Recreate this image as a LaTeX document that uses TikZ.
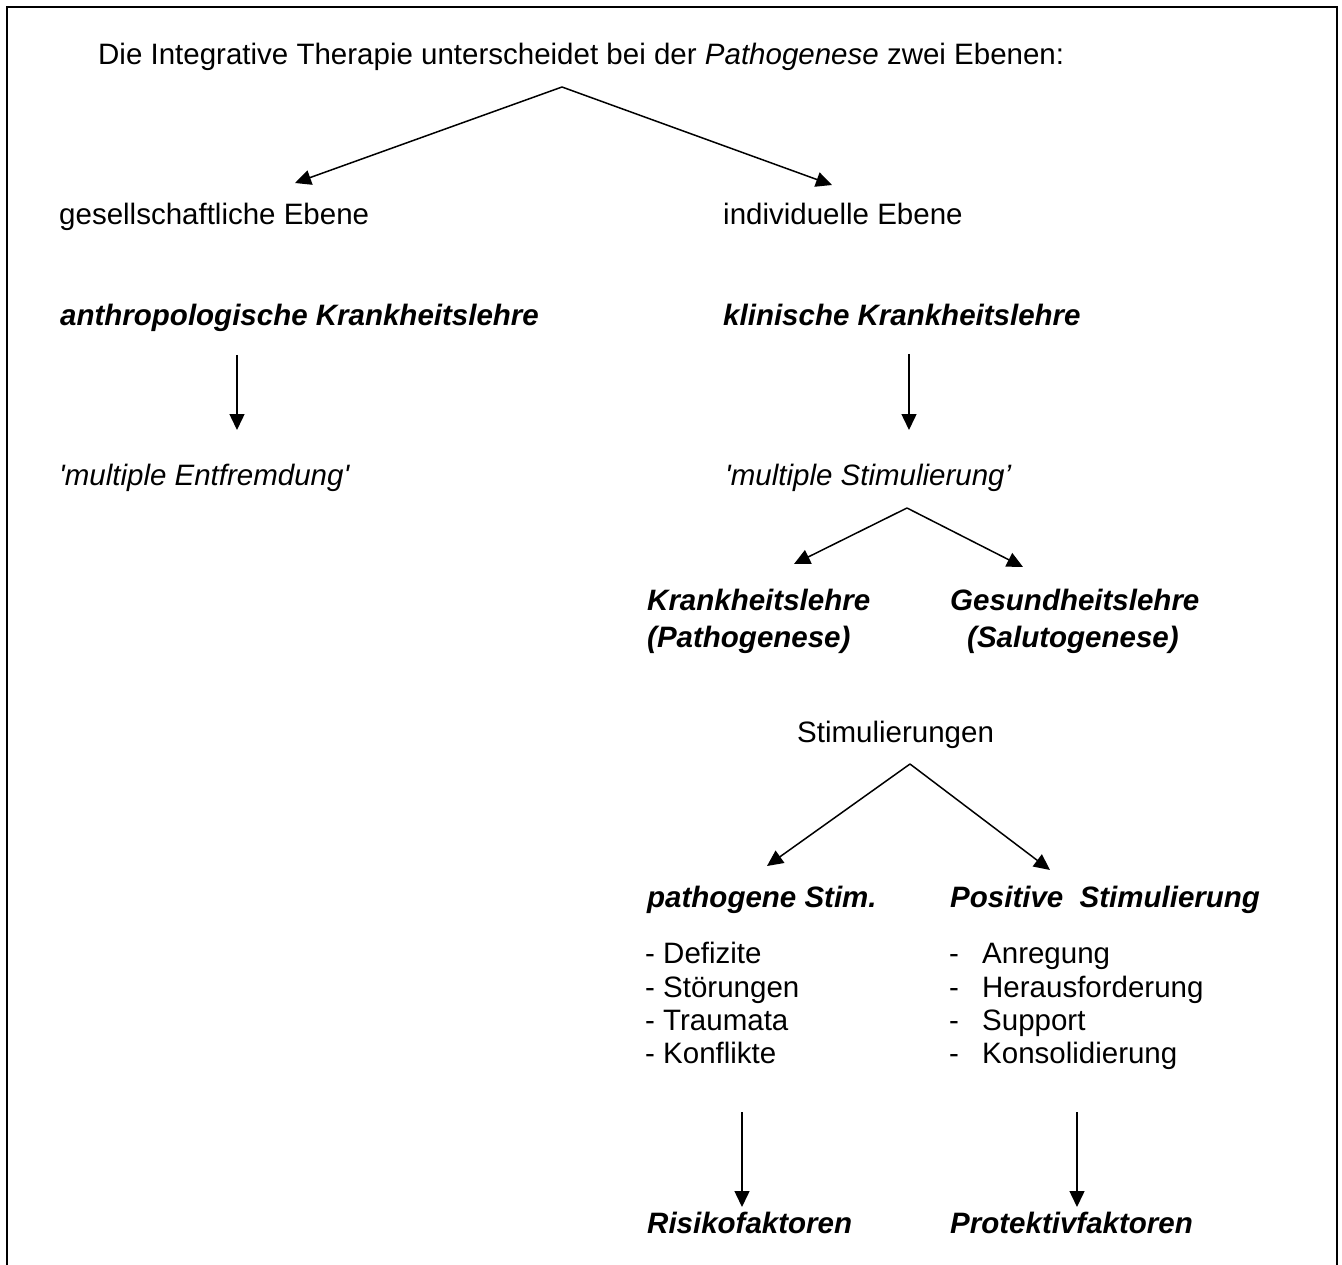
\documentclass[tikz,border=0pt]{standalone}
\usepackage{fontspec}
\newfontfamily\arial{Liberation Sans}
\usetikzlibrary{arrows.meta}
\begin{document}
\begin{tikzpicture}[x=1pt,y=-1pt,
  txt/.style={anchor=base west, inner sep=0pt, font=\arial\fontsize{29.5}{34}\selectfont},
  bi/.style={txt, font=\arial\fontsize{29.5}{34}\selectfont\bfseries\itshape},
  it/.style={txt, font=\arial\fontsize{29.5}{34}\selectfont\itshape},
  arr/.style={line width=1.5pt, -{Triangle[length=16pt,width=15pt]}},
  frameline/.style={line width=2.6pt}]
\useasboundingbox (0,0) rectangle (1342,1265);
% frame (open at the bottom)
\draw[frameline] (7,1265) -- (7,7) -- (1337,7) -- (1337,1265);

% texts
\node[txt] (title) at (98,65) {Die Integrative Therapie unterscheidet bei der \textit{Pathogenese} zwei Ebenen:};
\node[txt] (ges) at (59,225) {gesellschaftliche Ebene};
\node[txt] (ind) at (723,225) {individuelle Ebene};
\node[bi] (anth) at (60,326) {anthropologische Krankheitslehre};
\node[bi] (klin) at (723,326) {klinische Krankheitslehre};
\node[it] (entf) at (59,485) {'multiple Entfremdung'};
\node[it] (stim) at (725,485) {'multiple Stimulierung’};
\node[bi] (kl1) at (647,610) {Krankheitslehre};
\node[bi] (kl2) at (647,647) {(Pathogenese)};
\node[bi] (gl1) at (950,610) {Gesundheitslehre};
\node[bi] (gl2) at (967,647) {(Salutogenese)};
\node[txt] (stims) at (797,742) {Stimulierungen};
\node[bi] (path) at (647,907) {pathogene Stim.};
\node[bi] (pos) at (950,907) {Positive\ \ Stimulierung};
\node[txt] (l1) at (645,963) {- Defizite};
\node[txt] (l2) at (645,997) {- Störungen};
\node[txt] (l3) at (645,1030) {- Traumata};
\node[txt] (l4) at (645,1063) {- Konflikte};
\node[txt] (r1) at (949,963) {\makebox[33pt][l]{-}Anregung};
\node[txt] (r2) at (949,997) {\makebox[33pt][l]{-}Herausforderung};
\node[txt] (r3) at (949,1030) {\makebox[33pt][l]{-}Support};
\node[txt] (r4) at (949,1063) {\makebox[33pt][l]{-}Konsolidierung};
\node[bi] (risk) at (647,1233) {Risikofaktoren};
\node[bi] (prot) at (950,1233) {Protektivfaktoren};

% connector points
\coordinate (a0) at (562,87);
\coordinate (a1) at (295,183);
\coordinate (a2) at (832,185);
\coordinate (v1s) at (237,355);
\coordinate (v1e) at (237,430);
\coordinate (v2s) at (909,354);
\coordinate (v2e) at (909,430);
\coordinate (b0) at (907,508);
\coordinate (b1) at (794,564);
\coordinate (b2) at (1023,567);
\coordinate (c0) at (910,764);
\coordinate (c1) at (767,866);
\coordinate (c2) at (1050,870);
\coordinate (d1s) at (742,1112);
\coordinate (d1e) at (742,1207);
\coordinate (d2s) at (1077,1112);
\coordinate (d2e) at (1077,1207);

% connectors
\draw[arr] (a0) -- (a1);
\draw[arr] (a0) -- (a2);
\draw[arr] (v1s) -- (v1e);
\draw[arr] (v2s) -- (v2e);
\draw[arr] (b0) -- (b1);
\draw[arr] (b0) -- (b2);
\draw[arr] (c0) -- (c1);
\draw[arr] (c0) -- (c2);
\draw[arr] (d1s) -- (d1e);
\draw[arr] (d2s) -- (d2e);
\end{tikzpicture}
\end{document}
